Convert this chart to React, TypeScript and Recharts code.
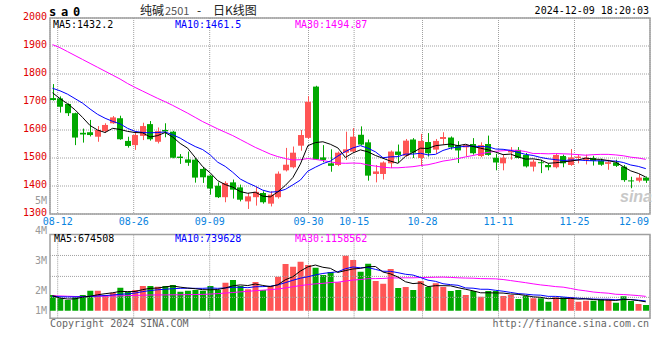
import React from 'react';
import {
  ComposedChart,
  Bar,
  Line,
  XAxis,
  YAxis,
  CartesianGrid,
  ReferenceArea,
  ReferenceLine,
  Cell,
} from 'recharts';

// trading days shown, 08-09 .. 12-09
const DATES = [
  '08-09',
  '08-12', '08-13', '08-14', '08-15', '08-16',
  '08-19', '08-20', '08-21', '08-22', '08-23',
  '08-26', '08-27', '08-28', '08-29', '08-30',
  '09-02', '09-03', '09-04', '09-05', '09-06',
  '09-09', '09-10', '09-11', '09-12', '09-13',
  '09-18', '09-19', '09-20',
  '09-23', '09-24', '09-25', '09-26', '09-27',
  '09-30',
  '10-08', '10-09', '10-10', '10-11',
  '10-14', '10-15', '10-16', '10-17', '10-18',
  '10-21', '10-22', '10-23', '10-24', '10-25',
  '10-28', '10-29', '10-30', '10-31', '11-01',
  '11-04', '11-05', '11-06', '11-07', '11-08',
  '11-11', '11-12', '11-13', '11-14', '11-15',
  '11-18', '11-19', '11-20', '11-21', '11-22',
  '11-25', '11-26', '11-27', '11-28', '11-29',
  '12-02', '12-03', '12-04', '12-05', '12-06',
  '12-09',
];

const OPEN = [
  1714, 1713, 1693, 1660, 1590, 1592, 1576, 1596, 1624, 1642,
  1561, 1546, 1579, 1621, 1558, 1600, 1594, 1505, 1495, 1494,
  1461, 1437, 1401, 1360, 1413, 1395, 1345, 1360, 1375, 1337,
  1360, 1456, 1467, 1544, 1572, 1755, 1502, 1481, 1475, 1519,
  1523, 1583, 1556, 1443, 1443, 1481, 1523, 1508, 1566, 1500,
  1557, 1530, 1568, 1573, 1546, 1538, 1550, 1507, 1550, 1501,
  1481, 1520, 1529, 1511, 1469, 1485, 1475, 1467, 1507, 1475,
  1500, 1493, 1500, 1491, 1479, 1484, 1469, 1420, 1419, 1430,
];
const HIGH = [
  1764, 1720, 1695, 1662, 1605, 1636, 1614, 1624, 1650, 1651,
  1576, 1594, 1626, 1632, 1609, 1624, 1597, 1514, 1523, 1500,
  1468, 1440, 1413, 1417, 1423, 1405, 1375, 1397, 1381, 1381,
  1452, 1536, 1541, 1600, 1721, 1758, 1546, 1531, 1523, 1594,
  1607, 1613, 1566, 1475, 1488, 1527, 1548, 1568, 1571, 1586,
  1589, 1568, 1592, 1577, 1560, 1548, 1571, 1556, 1580, 1515,
  1512, 1539, 1539, 1518, 1494, 1494, 1481, 1515, 1512, 1532,
  1513, 1512, 1508, 1498, 1494, 1494, 1475, 1433, 1443, 1434,
];
const LOW = [
  1705, 1662, 1650, 1546, 1555, 1577, 1558, 1590, 1622, 1565,
  1537, 1529, 1564, 1562, 1552, 1574, 1499, 1479, 1472, 1412,
  1411, 1369, 1357, 1342, 1355, 1345, 1318, 1330, 1337, 1327,
  1355, 1452, 1463, 1526, 1568, 1493, 1485, 1451, 1471, 1493,
  1520, 1545, 1419, 1413, 1423, 1464, 1482, 1505, 1500, 1470,
  1505, 1515, 1548, 1530, 1482, 1506, 1512, 1503, 1508, 1456,
  1456, 1494, 1498, 1466, 1452, 1446, 1456, 1463, 1467, 1472,
  1481, 1477, 1473, 1472, 1458, 1468, 1415, 1392, 1413, 1411,
];
const CLOSE = [
  1707, 1683, 1660, 1573, 1584, 1582, 1600, 1618, 1645, 1567,
  1543, 1582, 1614, 1567, 1596, 1595, 1501, 1500, 1483, 1430,
  1431, 1391, 1360, 1411, 1387, 1351, 1363, 1379, 1342, 1369,
  1444, 1476, 1519, 1582, 1701, 1495, 1493, 1472, 1519, 1531,
  1576, 1548, 1437, 1452, 1484, 1523, 1511, 1562, 1519, 1561,
  1517, 1561, 1575, 1538, 1527, 1546, 1517, 1546, 1511, 1484,
  1501, 1526, 1500, 1470, 1487, 1482, 1467, 1511, 1481, 1502,
  1505, 1501, 1490, 1476, 1485, 1472, 1421, 1418, 1430, 1419,
];

const MA5 = [
  1733, 1712, 1694, 1672, 1645, 1616, 1600, 1591, 1606, 1602,
  1595, 1591, 1590, 1575, 1580, 1591, 1575, 1552, 1535, 1502,
  1469, 1447, 1419, 1405, 1396, 1380, 1374, 1378, 1364, 1361,
  1379, 1402, 1430, 1478, 1544, 1555, 1558, 1549, 1536, 1502,
  1518, 1529, 1522, 1509, 1499, 1489, 1481, 1506, 1520, 1535,
  1534, 1544, 1547, 1550, 1544, 1549, 1541, 1535, 1529, 1521,
  1512, 1514, 1504, 1496, 1497, 1493, 1481, 1483, 1486, 1489,
  1493, 1500, 1496, 1495, 1491, 1485, 1469, 1454, 1445, 1432,
];
const MA10 = [
  1749, 1740, 1728, 1712, 1696, 1675, 1656, 1642, 1631, 1622,
  1606, 1595, 1591, 1590, 1591, 1593, 1583, 1571, 1555, 1541,
  1530, 1511, 1485, 1470, 1449, 1425, 1411, 1399, 1385, 1378,
  1380, 1388, 1404, 1421, 1453, 1467, 1480, 1489, 1507, 1523,
  1536, 1544, 1535, 1522, 1501, 1504, 1505, 1514, 1514, 1517,
  1511, 1513, 1527, 1535, 1539, 1542, 1542, 1541, 1540, 1532,
  1531, 1527, 1520, 1513, 1509, 1502, 1497, 1494, 1491, 1493,
  1493, 1491, 1490, 1490, 1490, 1489, 1484, 1475, 1470, 1462,
];
const MA30 = [
  1905, 1894, 1880, 1866, 1852, 1838, 1824, 1810, 1796, 1782,
  1766, 1752, 1739, 1726, 1713, 1701, 1688, 1674, 1660, 1645,
  1630, 1617, 1604, 1592, 1580, 1566, 1552, 1538, 1526, 1514,
  1505, 1498, 1493, 1494, 1498, 1495, 1491, 1486, 1482, 1481,
  1482, 1481, 1475, 1471, 1467, 1465, 1465, 1467, 1469, 1473,
  1476, 1482, 1489, 1493, 1498, 1504, 1509, 1515, 1520, 1524,
  1526, 1528, 1527, 1523, 1516, 1516, 1515, 1516, 1515, 1514,
  1512, 1510, 1512, 1513, 1513, 1511, 1508, 1503, 1500, 1495,
];

// volume, thousand lots
const VOLUME = [
  1190, 940, 810, 1020, 1190, 1520, 1520, 1190, 1370, 1750,
  1440, 1570, 1880, 1880, 1820, 1880, 1950, 1440, 1520, 1570,
  1520, 1880, 1570, 2130, 2330, 1880, 1630, 2180, 1570, 1880,
  2580, 3550, 3340, 3720, 3470, 3270, 2710, 2940, 2160, 4180,
  3850, 2960, 3570, 2260, 2050, 3170, 1730, 1800, 1570, 2260,
  1800, 2080, 1800, 1500, 1570, 1190, 1500, 1060, 1500, 1500,
  1120, 1190, 890, 1120, 940, 940, 680, 1020, 1020, 1020,
  680, 760, 760, 890, 890, 610, 1090, 740, 510, 430,
];
const VMA5 = [
  1140, 960, 890, 900, 1030, 1100, 1210, 1290, 1360, 1470,
  1450, 1460, 1600, 1700, 1720, 1810, 1880, 1790, 1720, 1670,
  1600, 1590, 1610, 1730, 1890, 1960, 1910, 2030, 1920, 1830,
  1970, 2350, 2580, 3010, 3330, 3470, 3300, 3220, 2910, 3050,
  3170, 3220, 3340, 3360, 2940, 2800, 2560, 2200, 2060, 2110,
  1830, 1900, 1900, 1890, 1750, 1630, 1510, 1360, 1360, 1350,
  1340, 1270, 1240, 1160, 1050, 1020, 910, 940, 920, 940,
  880, 900, 850, 820, 800, 780, 850, 840, 770, 675,
];
const VMA10 = [
  1080, 1060, 1050, 1050, 1060, 1090, 1120, 1150, 1190, 1250,
  1280, 1340, 1450, 1530, 1590, 1630, 1670, 1700, 1710, 1700,
  1700, 1730, 1700, 1730, 1780, 1780, 1750, 1820, 1830, 1860,
  1960, 2130, 2310, 2470, 2580, 2720, 2830, 2900, 2960, 3190,
  3320, 3260, 3280, 3140, 3000, 2990, 2890, 2770, 2710, 2520,
  2320, 2230, 2050, 1980, 1930, 1730, 1710, 1630, 1630, 1550,
  1480, 1390, 1300, 1260, 1200, 1180, 1090, 1090, 1040, 990,
  950, 910, 890, 870, 870, 830, 870, 850, 800, 740,
];
const VMA30 = [
  1140, 1120, 1100, 1080, 1080, 1090, 1100, 1110, 1120, 1130,
  1150, 1160, 1180, 1190, 1200, 1200, 1210, 1210, 1220, 1230,
  1240, 1260, 1300, 1340, 1380, 1430, 1470, 1520, 1560, 1600,
  1650, 1730, 1820, 1910, 1980, 2040, 2080, 2140, 2170, 2250,
  2330, 2370, 2430, 2440, 2450, 2490, 2490, 2500, 2500, 2520,
  2530, 2540, 2550, 2530, 2500, 2480, 2470, 2440, 2430, 2420,
  2370, 2290, 2210, 2130, 2040, 1960, 1900, 1830, 1790, 1690,
  1580, 1510, 1420, 1370, 1330, 1250, 1230, 1190, 1150, 1090,
];

const DATE_TICKS = ['08-12', '08-26', '09-09', '09-30', '10-15', '10-28', '11-11', '11-25', '12-09'];
const PRICE_TICKS = [1300, 1400, 1500, 1600, 1700, 1800, 1900, 2000];
// sina prints its volume labels on their own uneven ladder
const VOL_LABELS = ['5M', '4M', '3M', '2M', '1M'];
const VOL_LABEL_POS = [5, 4, 3, 2, 1.33];

const UP = '#ff5555';
const DOWN = '#00a800';
const GRID = '#a0a0a0';
const FRAME = '#a0a0a0';
const MONO = '"DejaVu Sans Mono", monospace';

const X_MIN = -0.333;
const X_MAX = 79.56;
// the date grid is spaced a touch wider than the candles
const GRID_OFFSET = 0.692;
const GRID_STEP = 1.012;
const tickPos = DATE_TICKS.map((d) =>
  Math.min(X_MAX, GRID_OFFSET + (DATES.indexOf(d) - 1) * GRID_STEP)
);

const VOL_MIN = -577;
const VOL_MAX = 8716;
const VOL_TOP = 5790;
const volGrid = [1, 2, 3].map((k) => VOL_MIN + ((VOL_TOP - VOL_MIN) * k) / 4);

const rows = DATES.map((date, i) => ({
  i,
  date,
  open: OPEN[i],
  high: HIGH[i],
  low: LOW[i],
  close: CLOSE[i],
  range: [LOW[i], HIGH[i]],
  ma5: MA5[i],
  ma10: MA10[i],
  ma30: MA30[i],
  vol: VOLUME[i],
  vma5: VMA5[i],
  vma10: VMA10[i],
  vma30: VMA30[i],
}));

const Candle = (props: any) => {
  const { x, y, width, height, payload } = props;
  if (!payload) return null;
  const { open, close, high, low } = payload;
  const top = Math.min(y, y + height);
  const h = Math.abs(height);
  const toY = (p: number) => (high === low ? top : top + ((high - p) / (high - low)) * h);
  const color = close >= open ? UP : DOWN;
  const left = Math.round(x);
  const w = Math.round(width);
  const cx = left + Math.floor(w / 2) + 0.5;
  const bTop = toY(Math.max(open, close));
  const bBot = toY(Math.min(open, close));
  return (
    <g>
      <line x1={cx} x2={cx} y1={top} y2={top + h} stroke={color} strokeWidth={1} />
      <rect x={left} y={bTop} width={w} height={Math.max(1, bBot - bTop)} fill={color} />
    </g>
  );
};

const DateTick = ({ x, y, index }: any) => {
  const last = index === DATE_TICKS.length - 1;
  return (
    <text
      x={last ? x - 1 : x}
      y={y}
      dy={10.5}
      textAnchor={last ? 'end' : 'middle'}
      fill="#0a84e0"
      fontSize={10}
      fontFamily={MONO}
    >
      {DATE_TICKS[index]}
    </text>
  );
};

const PriceTick = ({ x, y, payload }: any) => (
  <text x={x} y={y} dy={1.6} textAnchor="end" fill="#e00000" fontSize={10} fontFamily={MONO}>
    {payload.value}
  </text>
);

const VolTick = ({ x, y, index }: any) => (
  <text x={x} y={y} dy={3.6} textAnchor="end" fill="#999" fontSize={10} fontFamily={MONO}>
    {VOL_LABELS[index]}
  </text>
);

export default function App() {
  return (
    <div style={{ position: 'absolute', left: 0, top: 0, width: 660, height: 360, background: '#fff' }}>
      <div style={{ position: 'absolute', left: 0, top: 0 }}>
        <ComposedChart width={660} height={230} data={rows} margin={{ top: 18, right: 10, bottom: 0, left: 0 }}>
          <CartesianGrid stroke={GRID} strokeDasharray="1 1" />
          <XAxis
            dataKey="i"
            type="number"
            domain={[X_MIN, X_MAX]}
            allowDataOverflow
            ticks={tickPos}
            interval={0}
            height={16}
            axisLine={false}
            tickLine={false}
            tickSize={0}
            tickMargin={0}
            tick={<DateTick />}
          />
          <YAxis
            type="number"
            domain={[1300, 2000]}
            allowDataOverflow
            ticks={PRICE_TICKS}
            interval={0}
            width={50}
            axisLine={false}
            tickLine={false}
            tickSize={0}
            tickMargin={3}
            tick={<PriceTick />}
          />
          <Bar dataKey="range" barSize={6} shape={<Candle />} isAnimationActive={false} />
          <Line dataKey="ma30" stroke="#ff00ff" strokeWidth={1} dot={false} isAnimationActive={false} />
          <Line dataKey="ma10" stroke="#0000ff" strokeWidth={1} dot={false} isAnimationActive={false} />
          <Line dataKey="ma5" stroke="#000000" strokeWidth={1} dot={false} isAnimationActive={false} />
          <ReferenceArea x1={X_MIN} x2={X_MAX} y1={1300} y2={2000} fill="none" stroke={FRAME} strokeWidth={1.5} />
        </ComposedChart>
      </div>

      <div style={{ position: 'absolute', left: 0, top: 188 }}>
        <ComposedChart width={660} height={132} data={rows} margin={{ top: 8, right: 10, bottom: 1.7, left: 0 }}>
          <XAxis dataKey="i" type="number" domain={[X_MIN, X_MAX]} allowDataOverflow hide height={0} />
          <YAxis yAxisId="vol" type="number" domain={[VOL_MIN, VOL_MAX]} allowDataOverflow hide width={0} />
          <YAxis
            yAxisId="lab"
            type="number"
            domain={[1.08, 5.157]}
            allowDataOverflow
            ticks={VOL_LABEL_POS}
            interval={0}
            width={50}
            axisLine={false}
            tickLine={false}
            tickSize={0}
            tickMargin={3}
            tick={<VolTick />}
          />
          {volGrid.map((v) => (
            <ReferenceLine key={v} yAxisId="vol" y={v} stroke={GRID} strokeDasharray="1 1" />
          ))}
          {tickPos.map((t) => (
            <ReferenceLine
              key={t}
              yAxisId="vol"
              segment={[{ x: t, y: VOL_MIN }, { x: t, y: VOL_TOP }]}
              stroke={GRID}
              strokeDasharray="1 1"
            />
          ))}
          <Bar yAxisId="vol" dataKey="vol" barSize={6} isAnimationActive={false}>
            {rows.map((r) => (
              <Cell key={r.i} fill={r.close >= r.open ? UP : DOWN} />
            ))}
          </Bar>
          <Line yAxisId="vol" dataKey="vma30" stroke="#ff00ff" strokeWidth={1} dot={false} isAnimationActive={false} />
          <Line yAxisId="vol" dataKey="vma10" stroke="#0000ff" strokeWidth={1} dot={false} isAnimationActive={false} />
          <Line yAxisId="vol" dataKey="vma5" stroke="#000000" strokeWidth={1} dot={false} isAnimationActive={false} />
          <ReferenceArea
            yAxisId="vol"
            x1={X_MIN}
            x2={X_MAX}
            y1={VOL_MIN}
            y2={VOL_TOP}
            fill="none"
            stroke={FRAME}
            strokeWidth={1.5}
          />
        </ComposedChart>
      </div>

      <svg width={660} height={360} style={{ position: 'absolute', left: 0, top: 0, pointerEvents: 'none' }}>
        <text x={49} y={15.5} fontSize={12} fontWeight="bold" letterSpacing={-1.2} fontFamily={MONO} fill="#000">
          s a 0
        </text>
        <g fontFamily='"Noto Sans CJK SC", sans-serif' fontSize={12} fill="#222">
          <text x={140} y={14.5}>纯碱</text>
          <text x={165} y={14.5} fontSize={11} fill="#555">2501</text>
          <text x={197} y={14.5}>-</text>
          <text x={213} y={14.5}>日K线图</text>
        </g>
        <text x={649} y={14} textAnchor="end" fontSize={10} fontFamily={MONO} fill="#000">
          2024-12-09 18:20:03
        </text>

        <g fontSize={10} fontFamily={MONO}>
          <text x={53} y={27.5} fill="#000">MA5:1432.2</text>
          <text x={175} y={27.5} fill="#0000ff">MA10:1461.5</text>
          <text x={295} y={27.5} fill="#ff00ff">MA30:1494.87</text>
          <text x={54} y={242} fill="#000">MA5:674508</text>
          <text x={175} y={242} fill="#0000ff">MA10:739628</text>
          <text x={295} y={242} fill="#ff00ff">MA30:1158562</text>
          <text x={50} y={327} fill="#666">Copyright 2024 SINA.COM</text>
          <text x={649} y={327} textAnchor="end" fill="#666">http://finance.sina.com.cn</text>
        </g>

        <text
          x={620}
          y={202}
          fontSize={16}
          fontStyle="italic"
          fontWeight="bold"
          fontFamily='"Liberation Sans", sans-serif'
          fill="#c8c8c8"
        >
          sina
        </text>
      </svg>
    </div>
  );
}
